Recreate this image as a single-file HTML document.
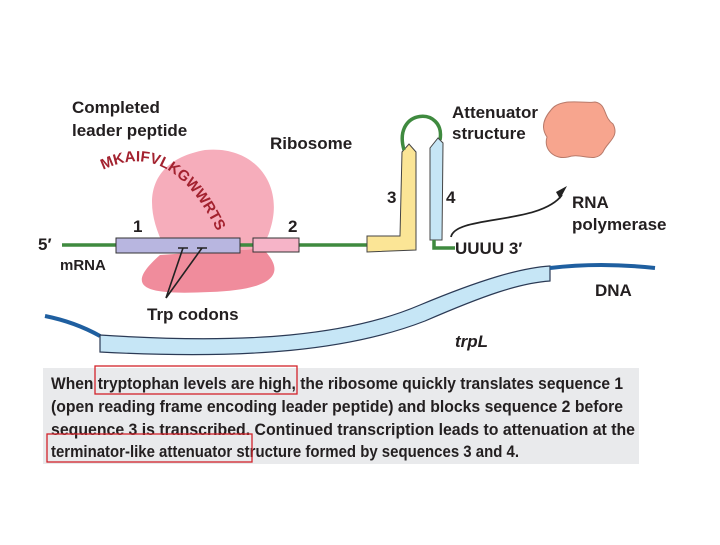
<!DOCTYPE html>
<html><head><meta charset="utf-8"><style>
html,body{margin:0;padding:0;background:#fff}
svg text{font-family:"Liberation Sans",sans-serif;font-weight:bold;fill:#231f20}
</style></head><body>
<svg width="720" height="540" viewBox="0 0 720 540" xmlns="http://www.w3.org/2000/svg">
<rect width="720" height="540" fill="#fff"/>
<!-- DNA -->
<path d="M45,316 Q75,322 100,336" stroke="#1f5fa0" stroke-width="4" fill="none"/>
<path d="M100,335 C250,345 350,335 420,305 C480,280 520,268 550,266 L550,281 C520,283 485,295 425,321 C350,350 250,360 100,352 Z" fill="#c6e6f6" stroke="#2b3a55" stroke-width="1.2"/>
<path d="M550,268 Q600,262 655,268" stroke="#1f5fa0" stroke-width="4" fill="none"/>
<!-- ribosome -->
<path d="M160,255 C120,290 150,295 210,292 C270,290 290,275 262,248 Z" fill="#f08c9c"/>
<path d="M165,248 C140,200 150,160 205,150 C255,145 285,185 270,230 C265,248 255,250 240,250 L175,250 Z" fill="#f6adbb"/>
<!-- mRNA line -->
<path d="M62,245 L372,245" stroke="#3f8a3f" stroke-width="3.5"/>
<rect x="116" y="238" width="124" height="15" fill="#b8b6e0" stroke="#333" stroke-width="1"/>
<rect x="253" y="238" width="46" height="14" fill="#f6b4c8" stroke="#333" stroke-width="1"/>
<!-- trp codons -->
<g stroke="#222" stroke-width="1.6" fill="none">
<path d="M178,248 h10 M197,248 h10 M183,248 L166,298 M202,248 L166,298"/>
</g>
<!-- 3 yellow -->
<path d="M367,236 L400,236 L402,152 L409,144 L416,152 L416,250 L367,252 Z" fill="#fbe596" stroke="#444" stroke-width="1"/>
<!-- loop -->
<path d="M404,150 C392,108 446,106 440,140" stroke="#3f8a3f" stroke-width="3.5" fill="none"/>
<!-- 4 blue -->
<path d="M430,240 L430,148 L438,138 L443,143 L442,240 Z" fill="#c6e6f6" stroke="#444" stroke-width="1"/>
<path d="M434,240 L434,248 L455,248" stroke="#3f8a3f" stroke-width="3.5" fill="none"/>
<!-- arrow -->
<path d="M451,237 C455,215 540,225 562,195" stroke="#222" stroke-width="1.8" fill="none"/>
<path d="M567,186 L560,199 L556,192 Z" fill="#222"/>
<!-- polymerase -->
<path d="M551,110 C560,97 585,104 595,102 C607,104 603,117 613,124 C620,137 607,142 603,152 C595,164 580,152 568,157 C555,160 543,150 547,137 C540,127 545,117 551,110 Z" fill="#f7a58e" stroke="#b87a6a" stroke-width="1"/>
<!-- peptide -->
<path id="pp" d="M103,170 Q175,135 222,242" fill="none"/>
<text style="fill:#a3222f;font-size:15px"><textPath href="#pp">MKAIFVLKGWWRTS</textPath></text>
<!-- labels -->
<g font-size="17">
<text x="72" y="113">Completed</text>
<text x="72" y="136">leader peptide</text>
<text x="270" y="149">Ribosome</text>
<text x="452" y="118">Attenuator</text>
<text x="452" y="139">structure</text>
<text x="387" y="203">3</text>
<text x="446" y="203">4</text>
<text x="133" y="232">1</text>
<text x="288" y="232">2</text>
<text x="38" y="250">5′</text>
<text x="60" y="270" font-size="15">mRNA</text>
<text x="147" y="320">Trp codons</text>
<text x="455" y="254">UUUU 3′</text>
<text x="572" y="208">RNA</text>
<text x="572" y="230">polymerase</text>
<text x="595" y="296">DNA</text>
<text x="455" y="347" font-style="italic">trpL</text>
</g>
<!-- caption -->
<rect x="43" y="368" width="596" height="96" fill="#e9eaec"/>
<g font-size="17">
<text x="51" y="389" textLength="572" lengthAdjust="spacingAndGlyphs">When tryptophan levels are high, the ribosome quickly translates sequence 1</text>
<text x="51" y="412" textLength="572" lengthAdjust="spacingAndGlyphs">(open reading frame encoding leader peptide) and blocks sequence 2 before</text>
<text x="51" y="435" textLength="584" lengthAdjust="spacingAndGlyphs">sequence 3 is transcribed.  Continued transcription leads to attenuation at the</text>
<text x="51" y="457" textLength="468" lengthAdjust="spacingAndGlyphs">terminator-like attenuator structure formed by sequences 3 and 4.</text>
</g>
<rect x="95" y="366" width="202" height="28" fill="none" stroke="#d2232a" stroke-width="1.3"/>
<rect x="47" y="434" width="205" height="28" fill="none" stroke="#d2232a" stroke-width="1.3"/>
</svg>
</body></html>
